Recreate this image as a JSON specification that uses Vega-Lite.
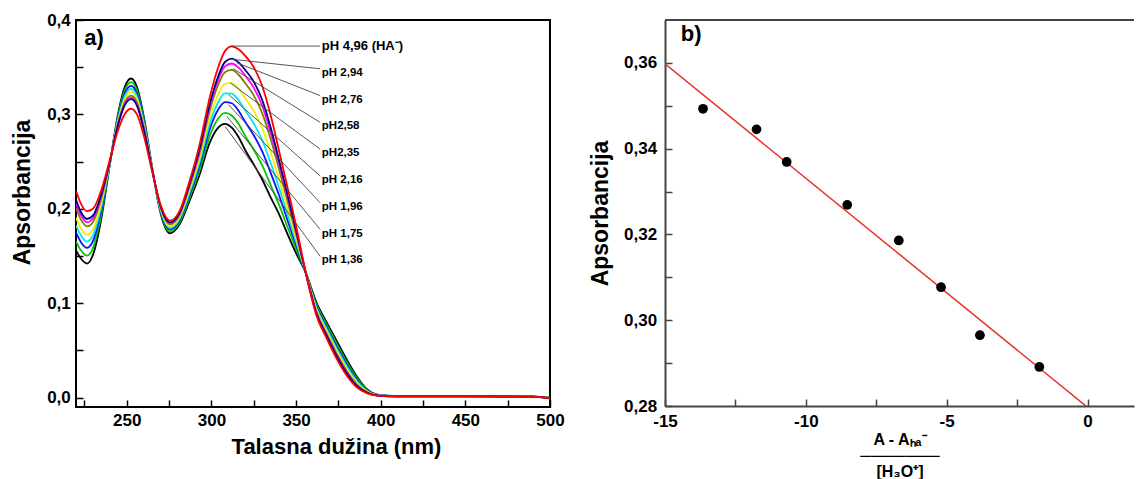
{
  "$schema": "https://vega.github.io/schema/vega-lite/v6.json",
  "background": "white",
  "padding": {"left": 10, "top": 10, "right": 0, "bottom": 0},
  "spacing": 23,
  "config": {
    "font": "Liberation Sans",
    "view": {"stroke": null},
    "axis": {
      "labelFont": "Liberation Sans", "labelFontWeight": "bold", "labelColor": "#000", "labelFontSize": 17,
      "titleFont": "Liberation Sans", "titleFontWeight": "bold", "titleColor": "#000", "titleFontSize": 23,
      "grid": false, "tickSize": -7, "tickColor": "#000", "tickWidth": 1.5
    }
  },
  "datasets": {
    "spectra": [
      {"w":220,"pH":"1,36","A":0.156},{"w":223,"pH":"1,36","A":0.147},{"w":226.5,"pH":"1,36","A":0.142},{"w":230,"pH":"1,36","A":0.151},{"w":235,"pH":"1,36","A":0.190},{"w":240,"pH":"1,36","A":0.247},{"w":245,"pH":"1,36","A":0.302},{"w":249,"pH":"1,36","A":0.330},{"w":252.5,"pH":"1,36","A":0.338},{"w":256,"pH":"1,36","A":0.329},{"w":260,"pH":"1,36","A":0.298},{"w":265,"pH":"1,36","A":0.2435},{"w":270,"pH":"1,36","A":0.195},{"w":275.5,"pH":"1,36","A":0.174},{"w":281,"pH":"1,36","A":0.183},{"w":287,"pH":"1,36","A":0.208},{"w":293,"pH":"1,36","A":0.236},{"w":299,"pH":"1,36","A":0.270},{"w":304,"pH":"1,36","A":0.286},{"w":308,"pH":"1,36","A":0.290},{"w":312,"pH":"1,36","A":0.286},{"w":316,"pH":"1,36","A":0.276},{"w":320,"pH":"1,36","A":0.262},{"w":325,"pH":"1,36","A":0.247},{"w":330,"pH":"1,36","A":0.231},{"w":335,"pH":"1,36","A":0.212},{"w":340,"pH":"1,36","A":0.194},{"w":345,"pH":"1,36","A":0.173},{"w":350,"pH":"1,36","A":0.153},{"w":356,"pH":"1,36","A":0.131},{"w":362,"pH":"1,36","A":0.101},{"w":368,"pH":"1,36","A":0.080},{"w":374,"pH":"1,36","A":0.060},{"w":380,"pH":"1,36","A":0.040},{"w":386,"pH":"1,36","A":0.022},{"w":392,"pH":"1,36","A":0.0085},{"w":398,"pH":"1,36","A":0.003},{"w":410,"pH":"1,36","A":0.0015},{"w":450,"pH":"1,36","A":0.0015},{"w":490,"pH":"1,36","A":0.001},{"w":500,"pH":"1,36","A":0.0},
      {"w":220,"pH":"1,75","A":0.1655},{"w":223,"pH":"1,75","A":0.1557},{"w":226.5,"pH":"1,75","A":0.1503},{"w":230,"pH":"1,75","A":0.1584},{"w":235,"pH":"1,75","A":0.1945},{"w":240,"pH":"1,75","A":0.2476},{"w":245,"pH":"1,75","A":0.2998},{"w":249,"pH":"1,75","A":0.3265},{"w":252.5,"pH":"1,75","A":0.3342},{"w":256,"pH":"1,75","A":0.3255},{"w":260,"pH":"1,75","A":0.2956},{"w":265,"pH":"1,75","A":0.2430},{"w":270,"pH":"1,75","A":0.1964},{"w":275.5,"pH":"1,75","A":0.1760},{"w":281,"pH":"1,75","A":0.1851},{"w":287,"pH":"1,75","A":0.2112},{"w":293,"pH":"1,75","A":0.2408},{"w":299,"pH":"1,75","A":0.2772},{"w":304,"pH":"1,75","A":0.2956},{"w":308,"pH":"1,75","A":0.3016},{"w":312,"pH":"1,75","A":0.2989},{"w":316,"pH":"1,75","A":0.2900},{"w":320,"pH":"1,75","A":0.2770},{"w":325,"pH":"1,75","A":0.2625},{"w":330,"pH":"1,75","A":0.2459},{"w":335,"pH":"1,75","A":0.2251},{"w":340,"pH":"1,75","A":0.2041},{"w":345,"pH":"1,75","A":0.1804},{"w":350,"pH":"1,75","A":0.1574},{"w":356,"pH":"1,75","A":0.1308},{"w":362,"pH":"1,75","A":0.0989},{"w":368,"pH":"1,75","A":0.0774},{"w":374,"pH":"1,75","A":0.0571},{"w":380,"pH":"1,75","A":0.0374},{"w":386,"pH":"1,75","A":0.0203},{"w":392,"pH":"1,75","A":0.0079},{"w":398,"pH":"1,75","A":0.0029},{"w":410,"pH":"1,75","A":0.0015},{"w":450,"pH":"1,75","A":0.0015},{"w":490,"pH":"1,75","A":0.001},{"w":500,"pH":"1,75","A":-0.0002},
      {"w":220,"pH":"1,96","A":0.1749},{"w":223,"pH":"1,96","A":0.1644},{"w":226.5,"pH":"1,96","A":0.1587},{"w":230,"pH":"1,96","A":0.1657},{"w":235,"pH":"1,96","A":0.1990},{"w":240,"pH":"1,96","A":0.2482},{"w":245,"pH":"1,96","A":0.2977},{"w":249,"pH":"1,96","A":0.3230},{"w":252.5,"pH":"1,96","A":0.3303},{"w":256,"pH":"1,96","A":0.3220},{"w":260,"pH":"1,96","A":0.2932},{"w":265,"pH":"1,96","A":0.2426},{"w":270,"pH":"1,96","A":0.1977},{"w":275.5,"pH":"1,96","A":0.1781},{"w":281,"pH":"1,96","A":0.1872},{"w":287,"pH":"1,96","A":0.2143},{"w":293,"pH":"1,96","A":0.2456},{"w":299,"pH":"1,96","A":0.2844},{"w":304,"pH":"1,96","A":0.3052},{"w":308,"pH":"1,96","A":0.3131},{"w":312,"pH":"1,96","A":0.3118},{"w":316,"pH":"1,96","A":0.3039},{"w":320,"pH":"1,96","A":0.2920},{"w":325,"pH":"1,96","A":0.2779},{"w":330,"pH":"1,96","A":0.2607},{"w":335,"pH":"1,96","A":0.2381},{"w":340,"pH":"1,96","A":0.2141},{"w":345,"pH":"1,96","A":0.1877},{"w":350,"pH":"1,96","A":0.1617},{"w":356,"pH":"1,96","A":0.1307},{"w":362,"pH":"1,96","A":0.0968},{"w":368,"pH":"1,96","A":0.0749},{"w":374,"pH":"1,96","A":0.0543},{"w":380,"pH":"1,96","A":0.0349},{"w":386,"pH":"1,96","A":0.0186},{"w":392,"pH":"1,96","A":0.0073},{"w":398,"pH":"1,96","A":0.0027},{"w":410,"pH":"1,96","A":0.0014},{"w":450,"pH":"1,96","A":0.0014},{"w":490,"pH":"1,96","A":0.001},{"w":500,"pH":"1,96","A":-0.0003},
      {"w":220,"pH":"2,16","A":0.1825},{"w":223,"pH":"2,16","A":0.1714},{"w":226.5,"pH":"2,16","A":0.1653},{"w":230,"pH":"2,16","A":0.1716},{"w":235,"pH":"2,16","A":0.2026},{"w":240,"pH":"2,16","A":0.2487},{"w":245,"pH":"2,16","A":0.2959},{"w":249,"pH":"2,16","A":0.3201},{"w":252.5,"pH":"2,16","A":0.3271},{"w":256,"pH":"2,16","A":0.3191},{"w":260,"pH":"2,16","A":0.2912},{"w":265,"pH":"2,16","A":0.2422},{"w":270,"pH":"2,16","A":0.1988},{"w":275.5,"pH":"2,16","A":0.1797},{"w":281,"pH":"2,16","A":0.1889},{"w":287,"pH":"2,16","A":0.2168},{"w":293,"pH":"2,16","A":0.2494},{"w":299,"pH":"2,16","A":0.2902},{"w":304,"pH":"2,16","A":0.3129},{"w":308,"pH":"2,16","A":0.3223},{"w":312,"pH":"2,16","A":0.3221},{"w":316,"pH":"2,16","A":0.3151},{"w":320,"pH":"2,16","A":0.3040},{"w":325,"pH":"2,16","A":0.2903},{"w":330,"pH":"2,16","A":0.2726},{"w":335,"pH":"2,16","A":0.2485},{"w":340,"pH":"2,16","A":0.2221},{"w":345,"pH":"2,16","A":0.1936},{"w":350,"pH":"2,16","A":0.1652},{"w":356,"pH":"2,16","A":0.1306},{"w":362,"pH":"2,16","A":0.0951},{"w":368,"pH":"2,16","A":0.0729},{"w":374,"pH":"2,16","A":0.0520},{"w":380,"pH":"2,16","A":0.0329},{"w":386,"pH":"2,16","A":0.0172},{"w":392,"pH":"2,16","A":0.0068},{"w":398,"pH":"2,16","A":0.0026},{"w":410,"pH":"2,16","A":0.0014},{"w":450,"pH":"2,16","A":0.0014},{"w":490,"pH":"2,16","A":0.001},{"w":500,"pH":"2,16","A":-0.0004},
      {"w":220,"pH":"2,35","A":0.1907},{"w":223,"pH":"2,35","A":0.1789},{"w":226.5,"pH":"2,35","A":0.1725},{"w":230,"pH":"2,35","A":0.1780},{"w":235,"pH":"2,35","A":0.2065},{"w":240,"pH":"2,35","A":0.2492},{"w":245,"pH":"2,35","A":0.2941},{"w":249,"pH":"2,35","A":0.3172},{"w":252.5,"pH":"2,35","A":0.3239},{"w":256,"pH":"2,35","A":0.3162},{"w":260,"pH":"2,35","A":0.2892},{"w":265,"pH":"2,35","A":0.2418},{"w":270,"pH":"2,35","A":0.2000},{"w":275.5,"pH":"2,35","A":0.1814},{"w":281,"pH":"2,35","A":0.1907},{"w":287,"pH":"2,35","A":0.2196},{"w":293,"pH":"2,35","A":0.2536},{"w":299,"pH":"2,35","A":0.2964},{"w":304,"pH":"2,35","A":0.3212},{"w":308,"pH":"2,35","A":0.3324},{"w":312,"pH":"2,35","A":0.3333},{"w":316,"pH":"2,35","A":0.3272},{"w":320,"pH":"2,35","A":0.3170},{"w":325,"pH":"2,35","A":0.3037},{"w":330,"pH":"2,35","A":0.2855},{"w":335,"pH":"2,35","A":0.2599},{"w":340,"pH":"2,35","A":0.2309},{"w":345,"pH":"2,35","A":0.2000},{"w":350,"pH":"2,35","A":0.1690},{"w":356,"pH":"2,35","A":0.1304},{"w":362,"pH":"2,35","A":0.0933},{"w":368,"pH":"2,35","A":0.0706},{"w":374,"pH":"2,35","A":0.0495},{"w":380,"pH":"2,35","A":0.0306},{"w":386,"pH":"2,35","A":0.0157},{"w":392,"pH":"2,35","A":0.0063},{"w":398,"pH":"2,35","A":0.0024},{"w":410,"pH":"2,35","A":0.0013},{"w":450,"pH":"2,35","A":0.0013},{"w":490,"pH":"2,35","A":0.001},{"w":500,"pH":"2,35","A":-0.0006},
      {"w":220,"pH":"2,58","A":0.2007},{"w":223,"pH":"2,58","A":0.1882},{"w":226.5,"pH":"2,58","A":0.1814},{"w":230,"pH":"2,58","A":0.1858},{"w":235,"pH":"2,58","A":0.2113},{"w":240,"pH":"2,58","A":0.2499},{"w":245,"pH":"2,58","A":0.2917},{"w":249,"pH":"2,58","A":0.3135},{"w":252.5,"pH":"2,58","A":0.3198},{"w":256,"pH":"2,58","A":0.3125},{"w":260,"pH":"2,58","A":0.2866},{"w":265,"pH":"2,58","A":0.2413},{"w":270,"pH":"2,58","A":0.2014},{"w":275.5,"pH":"2,58","A":0.1836},{"w":281,"pH":"2,58","A":0.1929},{"w":287,"pH":"2,58","A":0.2229},{"w":293,"pH":"2,58","A":0.2587},{"w":299,"pH":"2,58","A":0.3041},{"w":304,"pH":"2,58","A":0.3314},{"w":308,"pH":"2,58","A":0.3447},{"w":312,"pH":"2,58","A":0.3471},{"w":316,"pH":"2,58","A":0.3420},{"w":320,"pH":"2,58","A":0.3330},{"w":325,"pH":"2,58","A":0.3201},{"w":330,"pH":"2,58","A":0.3013},{"w":335,"pH":"2,58","A":0.2738},{"w":340,"pH":"2,58","A":0.2416},{"w":345,"pH":"2,58","A":0.2078},{"w":350,"pH":"2,58","A":0.1736},{"w":356,"pH":"2,58","A":0.1303},{"w":362,"pH":"2,58","A":0.0911},{"w":368,"pH":"2,58","A":0.0679},{"w":374,"pH":"2,58","A":0.0465},{"w":380,"pH":"2,58","A":0.0279},{"w":386,"pH":"2,58","A":0.0138},{"w":392,"pH":"2,58","A":0.0057},{"w":398,"pH":"2,58","A":0.0023},{"w":410,"pH":"2,58","A":0.0013},{"w":450,"pH":"2,58","A":0.0013},{"w":490,"pH":"2,58","A":0.001},{"w":500,"pH":"2,58","A":-0.0007},
      {"w":220,"pH":"2,76","A":0.2058},{"w":223,"pH":"2,76","A":0.1928},{"w":226.5,"pH":"2,76","A":0.1858},{"w":230,"pH":"2,76","A":0.1897},{"w":235,"pH":"2,76","A":0.2137},{"w":240,"pH":"2,76","A":0.2502},{"w":245,"pH":"2,76","A":0.2907},{"w":249,"pH":"2,76","A":0.3117},{"w":252.5,"pH":"2,76","A":0.3178},{"w":256,"pH":"2,76","A":0.3107},{"w":260,"pH":"2,76","A":0.2854},{"w":265,"pH":"2,76","A":0.2410},{"w":270,"pH":"2,76","A":0.2021},{"w":275.5,"pH":"2,76","A":0.1847},{"w":281,"pH":"2,76","A":0.1941},{"w":287,"pH":"2,76","A":0.2246},{"w":293,"pH":"2,76","A":0.2613},{"w":299,"pH":"2,76","A":0.3079},{"w":304,"pH":"2,76","A":0.3366},{"w":308,"pH":"2,76","A":0.3508},{"w":312,"pH":"2,76","A":0.3539},{"w":316,"pH":"2,76","A":0.3495},{"w":320,"pH":"2,76","A":0.3410},{"w":325,"pH":"2,76","A":0.3284},{"w":330,"pH":"2,76","A":0.3092},{"w":335,"pH":"2,76","A":0.2807},{"w":340,"pH":"2,76","A":0.2469},{"w":345,"pH":"2,76","A":0.2117},{"w":350,"pH":"2,76","A":0.1759},{"w":356,"pH":"2,76","A":0.1302},{"w":362,"pH":"2,76","A":0.0899},{"w":368,"pH":"2,76","A":0.0666},{"w":374,"pH":"2,76","A":0.0450},{"w":380,"pH":"2,76","A":0.0266},{"w":386,"pH":"2,76","A":0.0129},{"w":392,"pH":"2,76","A":0.0053},{"w":398,"pH":"2,76","A":0.0022},{"w":410,"pH":"2,76","A":0.0013},{"w":450,"pH":"2,76","A":0.0013},{"w":490,"pH":"2,76","A":0.001},{"w":500,"pH":"2,76","A":-0.0008},
      {"w":220,"pH":"2,94","A":0.2096},{"w":223,"pH":"2,94","A":0.1963},{"w":226.5,"pH":"2,94","A":0.1892},{"w":230,"pH":"2,94","A":0.1927},{"w":235,"pH":"2,94","A":0.2155},{"w":240,"pH":"2,94","A":0.2504},{"w":245,"pH":"2,94","A":0.2898},{"w":249,"pH":"2,94","A":0.3103},{"w":252.5,"pH":"2,94","A":0.3162},{"w":256,"pH":"2,94","A":0.3093},{"w":260,"pH":"2,94","A":0.2844},{"w":265,"pH":"2,94","A":0.2408},{"w":270,"pH":"2,94","A":0.2027},{"w":275.5,"pH":"2,94","A":0.1855},{"w":281,"pH":"2,94","A":0.1949},{"w":287,"pH":"2,94","A":0.2259},{"w":293,"pH":"2,94","A":0.2632},{"w":299,"pH":"2,94","A":0.3108},{"w":304,"pH":"2,94","A":0.3404},{"w":308,"pH":"2,94","A":0.3555},{"w":312,"pH":"2,94","A":0.3591},{"w":316,"pH":"2,94","A":0.3551},{"w":320,"pH":"2,94","A":0.3470},{"w":325,"pH":"2,94","A":0.3346},{"w":330,"pH":"2,94","A":0.3152},{"w":335,"pH":"2,94","A":0.2860},{"w":340,"pH":"2,94","A":0.2510},{"w":345,"pH":"2,94","A":0.2147},{"w":350,"pH":"2,94","A":0.1777},{"w":356,"pH":"2,94","A":0.1301},{"w":362,"pH":"2,94","A":0.0891},{"w":368,"pH":"2,94","A":0.0655},{"w":374,"pH":"2,94","A":0.0438},{"w":380,"pH":"2,94","A":0.0255},{"w":386,"pH":"2,94","A":0.0122},{"w":392,"pH":"2,94","A":0.0051},{"w":398,"pH":"2,94","A":0.0021},{"w":410,"pH":"2,94","A":0.0012},{"w":450,"pH":"2,94","A":0.0012},{"w":490,"pH":"2,94","A":0.001},{"w":500,"pH":"2,94","A":-0.0009},
      {"w":220,"pH":"4,96","A":0.219},{"w":223,"pH":"4,96","A":0.205},{"w":226.5,"pH":"4,96","A":0.1975},{"w":230,"pH":"4,96","A":0.200},{"w":235,"pH":"4,96","A":0.220},{"w":240,"pH":"4,96","A":0.252},{"w":245,"pH":"4,96","A":0.284},{"w":249,"pH":"4,96","A":0.301},{"w":252.5,"pH":"4,96","A":0.306},{"w":256,"pH":"4,96","A":0.300},{"w":260,"pH":"4,96","A":0.278},{"w":265,"pH":"4,96","A":0.2396},{"w":270,"pH":"4,96","A":0.204},{"w":275.5,"pH":"4,96","A":0.1875},{"w":281,"pH":"4,96","A":0.197},{"w":287,"pH":"4,96","A":0.229},{"w":293,"pH":"4,96","A":0.268},{"w":299,"pH":"4,96","A":0.318},{"w":304,"pH":"4,96","A":0.350},{"w":308,"pH":"4,96","A":0.367},{"w":312,"pH":"4,96","A":0.372},{"w":316,"pH":"4,96","A":0.369},{"w":320,"pH":"4,96","A":0.362},{"w":325,"pH":"4,96","A":0.350},{"w":330,"pH":"4,96","A":0.330},{"w":335,"pH":"4,96","A":0.299},{"w":340,"pH":"4,96","A":0.261},{"w":345,"pH":"4,96","A":0.222},{"w":350,"pH":"4,96","A":0.182},{"w":356,"pH":"4,96","A":0.130},{"w":362,"pH":"4,96","A":0.087},{"w":368,"pH":"4,96","A":0.063},{"w":374,"pH":"4,96","A":0.041},{"w":380,"pH":"4,96","A":0.023},{"w":386,"pH":"4,96","A":0.0105},{"w":392,"pH":"4,96","A":0.0045},{"w":398,"pH":"4,96","A":0.002},{"w":410,"pH":"4,96","A":0.0012},{"w":450,"pH":"4,96","A":0.0012},{"w":490,"pH":"4,96","A":0.001},{"w":500,"pH":"4,96","A":-0.001}
    ],
    "ann": [
      {"pH":"4,96","t":"pH 4,96 (HA⁻)","x1":311.5,"y1":0.3724,"x2":364.2,"y2":0.3724,"lx":365.2,"ly":0.3724},
      {"pH":"2,94","t":"pH 2,94","x1":313.0,"y1":0.3582,"x2":364.2,"y2":0.3483,"lx":365.2,"ly":0.344},
      {"pH":"2,76","t":"pH 2,76","x1":315.0,"y1":0.3547,"x2":364.2,"y2":0.3199,"lx":365.2,"ly":0.3156},
      {"pH":"2,58","t":"pH2,58","x1":313.0,"y1":0.3483,"x2":364.2,"y2":0.2916,"lx":365.2,"ly":0.2873},
      {"pH":"2,35","t":"pH2,35","x1":311.1,"y1":0.3334,"x2":364.2,"y2":0.2632,"lx":365.2,"ly":0.2589},
      {"pH":"2,16","t":"pH 2,16","x1":310.1,"y1":0.321,"x2":364.2,"y2":0.2348,"lx":365.2,"ly":0.2305},
      {"pH":"1,96","t":"pH 1,96","x1":310.1,"y1":0.3103,"x2":364.2,"y2":0.2064,"lx":365.2,"ly":0.2021},
      {"pH":"1,75","t":"pH 1,75","x1":309.1,"y1":0.2979,"x2":364.2,"y2":0.1781,"lx":365.2,"ly":0.1738},
      {"pH":"1,36","t":"pH 1,36","x1":308.1,"y1":0.2872,"x2":364.2,"y2":0.1497,"lx":365.2,"ly":0.1454}
    ],
    "points": [
      {"x":-13.65,"y":0.3493},{"x":-11.75,"y":0.3445},{"x":-10.68,"y":0.3369},{"x":-8.53,"y":0.3269},
      {"x":-6.70,"y":0.3186},{"x":-5.20,"y":0.3077},{"x":-3.82,"y":0.2965},{"x":-1.71,"y":0.2891}
    ],
    "fit": [{"x":-15,"y":0.3598},{"x":0,"y":0.2797}]
  },
  "hconcat": [
    {
      "width": 474,
      "height": 387,
      "view": {"stroke": "#000", "strokeWidth": 2},
      "layer": [
        {
          "data": {"name": "spectra"},
          "mark": {"type": "line", "interpolate": "monotone", "strokeWidth": 1.8, "clip": true},
          "encoding": {
            "x": {"field": "w", "type": "quantitative",
              "scale": {"domain": [220, 500], "nice": false, "zero": false},
              "axis": {"title": "Talasna dužina (nm)", "titleFontSize": 22, "values": [225,250,275,300,325,350,375,400,425,450,475,500],
                "labelExpr": "datum.value % 50 == 0 ? '' + datum.value : ''", "labelFlush": false, "domain": false,
                "labelPadding": 12.5, "titlePadding": 8, "titleX": 260}},
            "y": {"field": "A", "type": "quantitative",
              "scale": {"domain": [-0.01, 0.4], "nice": false, "zero": false},
              "axis": {"title": "Apsorbancija", "values": [0,0.05,0.1,0.15,0.2,0.25,0.3,0.35,0.4],
                "labelExpr": "round(datum.value*100) % 10 == 0 ? replace(format(datum.value, '.1f'), '.', ',') : ''",
                "domain": false, "labelPadding": 12.7, "titlePadding": 12, "titleY": 172}},
            "color": {"field": "pH", "type": "nominal",
              "scale": {"domain": ["1,36","1,75","1,96","2,16","2,35","2,58","2,76","2,94","4,96"],
                        "range": ["#000000","#00c800","#1010ff","#00e6f0","#f0f000","#808000","#ff00ff","#000080","#ff0000"]},
              "legend": null}
          }
        },
        {
          "data": {"name": "ann"},
          "mark": {"type": "rule", "color": "#444", "strokeWidth": 0.9},
          "encoding": {
            "x": {"field": "x1", "type": "quantitative"},
            "y": {"field": "y1", "type": "quantitative"},
            "x2": {"field": "x2"},
            "y2": {"field": "y2"}
          }
        },
        {
          "data": {"name": "ann"},
          "transform": [{"filter": "datum.pH != '4,96'"}],
          "mark": {"type": "text", "align": "left", "baseline": "middle", "fontSize": 11.5, "fontWeight": "bold", "font": "Liberation Sans", "color": "#000"},
          "encoding": {
            "x": {"field": "lx", "type": "quantitative"},
            "y": {"field": "ly", "type": "quantitative"},
            "text": {"field": "t"}
          }
        },
        {
          "data": {"name": "ann"},
          "transform": [{"filter": "datum.pH == '4,96'"}],
          "mark": {"type": "text", "align": "left", "baseline": "middle", "fontSize": 13, "fontWeight": "bold", "font": "Liberation Sans", "color": "#000"},
          "encoding": {
            "x": {"field": "lx", "type": "quantitative"},
            "y": {"field": "ly", "type": "quantitative"},
            "text": {"field": "t"}
          }
        },
        {
          "data": {"values": [{"lx": 224.9, "ly": 0.381, "t": "a)"}]},
          "mark": {"type": "text", "align": "left", "baseline": "middle", "fontSize": 22, "fontWeight": "bold", "font": "Liberation Sans", "color": "#000"},
          "encoding": {
            "x": {"field": "lx", "type": "quantitative"},
            "y": {"field": "ly", "type": "quantitative"},
            "text": {"field": "t"}
          }
        }
      ]
    },
    {
      "width": 469,
      "height": 386,
      "layer": [
        {
          "data": {"name": "fit"},
          "mark": {"type": "line", "color": "#e8302a", "strokeWidth": 1.5, "clip": true},
          "encoding": {
            "x": {"field": "x", "type": "quantitative",
              "scale": {"domain": [-15, 1.65], "nice": false, "zero": false},
              "axis": {"title": ["A - Aₕₐ⁻", "───────", "[H₃O⁺]"], "titleFontSize": 16, "titleLineHeight": 16,
                "values": [-15,-12.5,-10,-7.5,-5,-2.5,0],
                "labelExpr": "datum.value % 5 == 0 ? '' + datum.value : ''", "labelFlush": false,
                "domain": true, "domainColor": "#444", "domainWidth": 2, "tickColor": "#444",
                "labelPadding": 14.5, "titlePadding": 2}},
            "y": {"field": "y", "type": "quantitative",
              "scale": {"domain": [0.28, 0.37], "nice": false, "zero": false},
              "axis": {"title": "Apsorbancija", "values": [0.28,0.29,0.3,0.31,0.32,0.33,0.34,0.35,0.36],
                "labelExpr": "round(datum.value*100) % 2 == 0 ? replace(format(datum.value, '.2f'), '.', ',') : ''",
                "domain": true, "domainColor": "#444", "domainWidth": 2, "tickColor": "#444",
                "labelPadding": 15.3, "titlePadding": 11}}
          }
        },
        {
          "data": {"name": "points"},
          "mark": {"type": "circle", "color": "#000", "size": 95, "opacity": 1},
          "encoding": {
            "x": {"field": "x", "type": "quantitative"},
            "y": {"field": "y", "type": "quantitative"}
          }
        },
        {
          "data": {"values": [{}]},
          "mark": {"type": "rule", "color": "#444", "strokeWidth": 2},
          "encoding": {"y": {"datum": 0.37}}
        },
        {
          "data": {"values": [{"x": -14.44, "y": 0.3668, "t": "b)"}]},
          "mark": {"type": "text", "align": "left", "baseline": "middle", "fontSize": 22, "fontWeight": "bold", "font": "Liberation Sans", "color": "#000"},
          "encoding": {
            "x": {"field": "x", "type": "quantitative"},
            "y": {"field": "y", "type": "quantitative"},
            "text": {"field": "t"}
          }
        }
      ]
    }
  ]
}
